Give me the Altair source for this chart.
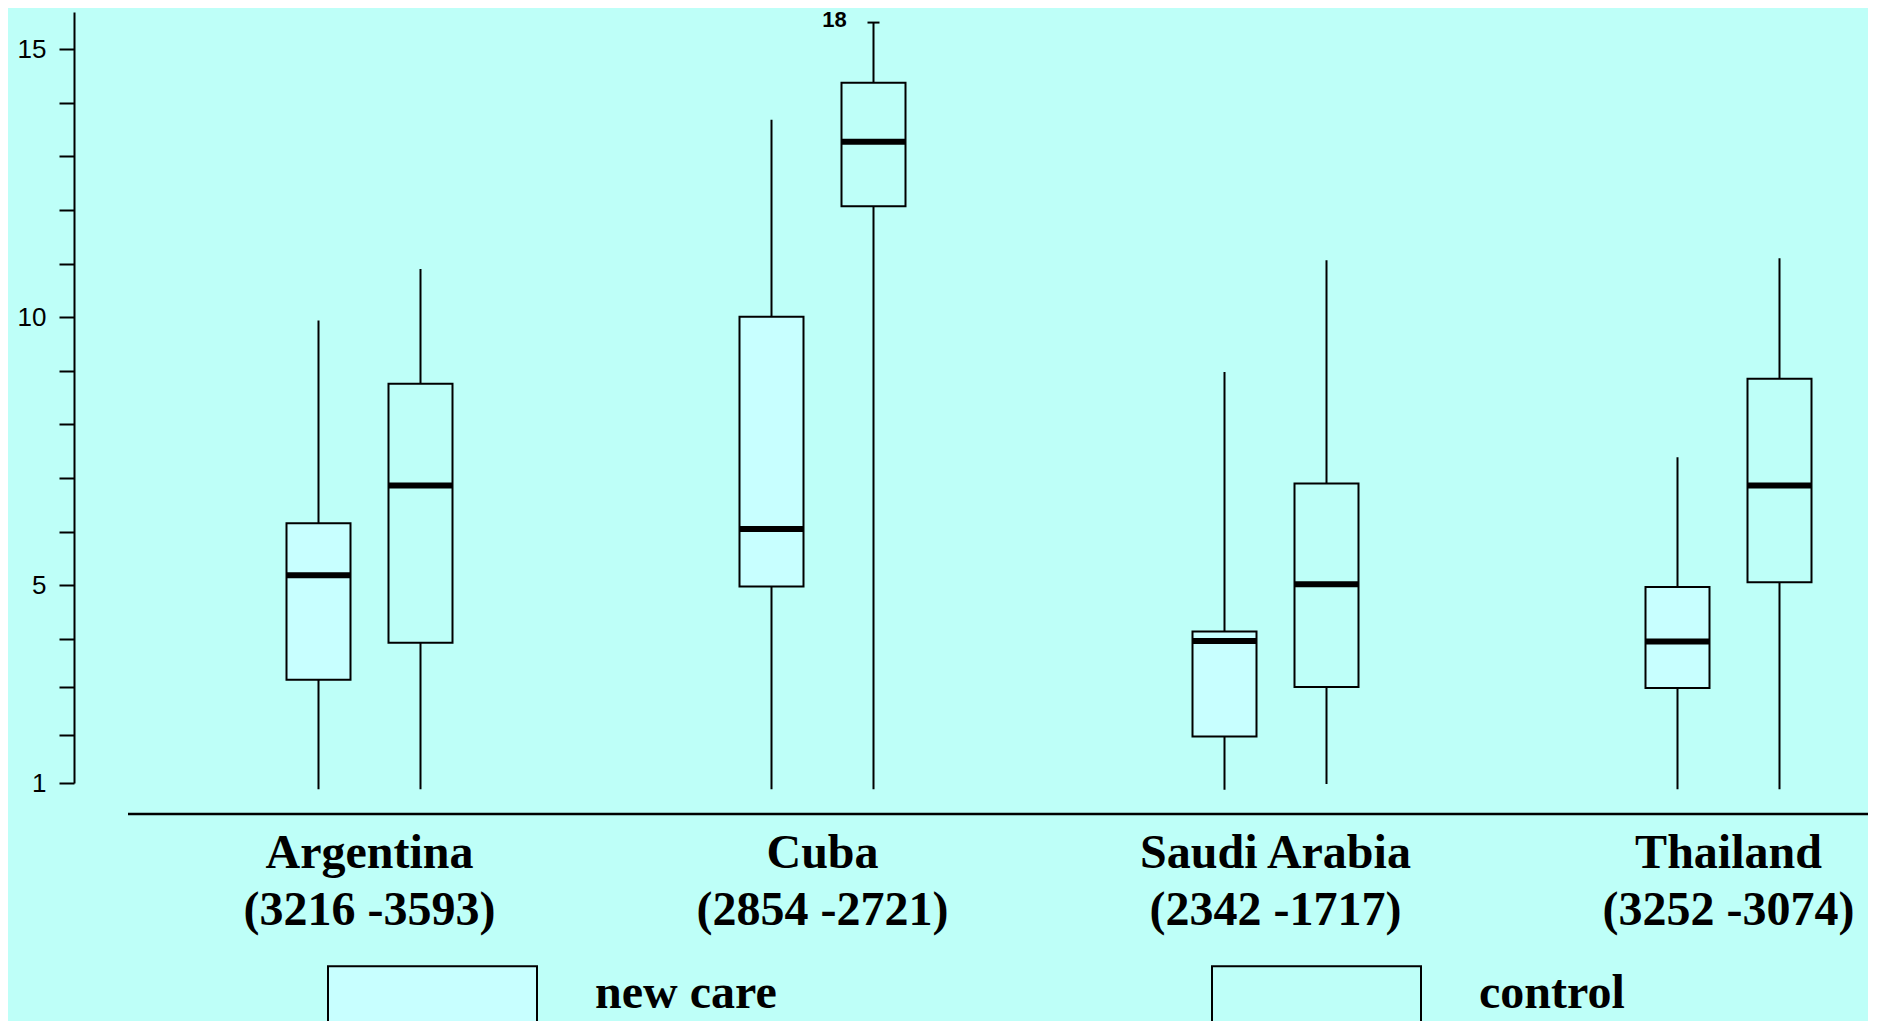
import altair as alt
import pandas as pd

# ---------------- data ----------------
countries = ["Argentina", "Cuba", "Saudi Arabia", "Thailand"]
sample_sizes = ["(3216 -3593)", "(2854 -2721)", "(2342 -1717)", "(3252 -3074)"]
groups = ["new care", "control"]

new_lo = [0.87, 0.87, 0.86, 0.87]
new_q1 = [3.15, 4.98, 1.97, 2.98]
new_med = [5.19, 6.05, 3.96, 3.95]
new_q3 = [6.16, 10.01, 4.14, 4.97]
new_hi = [9.94, 13.68, 8.98, 7.39]

ctl_lo = [0.87, 0.87, 0.98, 0.87]
ctl_q1 = [3.92, 12.07, 3.0, 5.06]
ctl_med = [6.86, 13.27, 5.02, 6.86]
ctl_q3 = [8.76, 14.37, 6.9, 8.85]
ctl_hi = [10.9, 18.0, 11.06, 11.1]

y_ticks = list(range(1, 16))
axis_cut = 15.5  # whiskers reaching beyond this are cut and labelled

# ---------------- tables ----------------
rows = []
for i, c in enumerate(countries):
    rows.append(dict(country=c, group=groups[0], lo=new_lo[i], q1=new_q1[i],
                     med=new_med[i], q3=new_q3[i], hi=new_hi[i]))
    rows.append(dict(country=c, group=groups[1], lo=ctl_lo[i], q1=ctl_q1[i],
                     med=ctl_med[i], q3=ctl_q3[i], hi=ctl_hi[i]))
df = pd.DataFrame(rows)
df["hi_cut"] = df["hi"].clip(upper=axis_cut)

lab = pd.DataFrame({"country": countries,
                    "label": [f"{c}\n{s}" for c, s in zip(countries, sample_sizes)]})
one = pd.DataFrame({"k": [0]})

BG = "#BEFFF8"
NEW_FILL = "#C8FFFF"
W, H = 1794, 802

x_scale = alt.Scale(domain=countries, range=[69, 1881], paddingInner=0, paddingOuter=0)
xo_scale = alt.Scale(domain=groups, range=[124.5, 328.5], paddingInner=0, paddingOuter=0)
# the original axis is slightly compressed below 4
y_scale = alt.Scale(domain=[1, 4, 15, 15.7], range=[771, 627, 37, 0], nice=False, zero=False)

X = alt.X("country:N", scale=x_scale, axis=None, sort=countries)
XO = alt.XOffset("group:N", scale=xo_scale, sort=groups)

y_axis = alt.Axis(values=y_ticks, title=None, grid=False, format="d",
                  labelExpr="datum.value == 1 || datum.value % 5 == 0 ? datum.label : ''",
                  tickSize=15, tickWidth=2, tickColor="black",
                  domainColor="black", domainWidth=2,
                  labelFont="Liberation Sans", labelFontSize=26, labelColor="black",
                  labelPadding=13)

base = alt.Chart(df)

whisk = base.mark_rule(color="black", strokeWidth=2).encode(
    x=X, xOffset=XO,
    y=alt.Y("lo:Q", scale=y_scale, axis=y_axis),
    y2="hi_cut:Q",
)

legend = alt.Legend(title=None, orient="none", legendX=253, legendY=876,
                    direction="horizontal",
                    symbolType="M-1,-0.26L1,-0.26L1,1L-1,1Z",
                    symbolSize=43681, symbolStrokeColor="black", symbolStrokeWidth=2,
                    symbolOpacity=1,
                    labelFont="Liberation Serif", labelFontWeight="bold",
                    labelFontSize=48, labelColor="black", labelOffset=57,
                    labelLimit=600, columnPadding=431, padding=0)

boxes = base.mark_bar(size=64, stroke="black", strokeWidth=2, opacity=1).encode(
    x=X, xOffset=XO,
    y=alt.Y("q1:Q", scale=y_scale),
    y2="q3:Q",
    fill=alt.Fill("group:N", scale=alt.Scale(domain=groups, range=[NEW_FILL, BG]),
                  legend=legend, sort=groups),
)

medians = base.mark_tick(color="black", size=64, thickness=6, opacity=1).encode(
    x=X, xOffset=XO,
    y=alt.Y("med:Q", scale=y_scale),
)

cut = base.transform_filter(f"datum.hi > {axis_cut}")
caps = cut.mark_tick(color="black", size=12, thickness=2, opacity=1, xOffset=-6).encode(
    x=X, xOffset=XO,
    y=alt.Y("hi_cut:Q", scale=y_scale),
)
cut_text = cut.mark_text(font="Liberation Sans", fontWeight="bold", fontSize=22,
                         color="black", dx=-39, dy=-3, align="center",
                         baseline="middle").encode(
    x=X, xOffset=XO,
    y=alt.Y("hi_cut:Q", scale=y_scale),
    text=alt.Text("hi:Q", format="d"),
)

labels = alt.Chart(lab).mark_text(font="Liberation Serif", fontWeight="bold",
                                  fontSize=48, color="black", lineBreak="\n",
                                  lineHeight=57, align="center",
                                  baseline="alphabetic").encode(
    x=X,
    y=alt.value(856),
    text="label:N",
)

xline = alt.Chart(one).mark_rule(color="black", strokeWidth=2.5).encode(
    x=alt.value(54), x2=alt.value(1794), y=alt.value(802)
)

chart = alt.layer(whisk, boxes, medians, caps, cut_text, labels, xline).properties(
    width=W, height=H,
    autosize=alt.AutoSizeParams(type="none"),
    padding={"left": 66, "top": 4, "right": 0, "bottom": 207},
    background=BG,
).configure_view(strokeWidth=0)

chart.save("out.html", embed_options={"renderer": "svg", "actions": False})
